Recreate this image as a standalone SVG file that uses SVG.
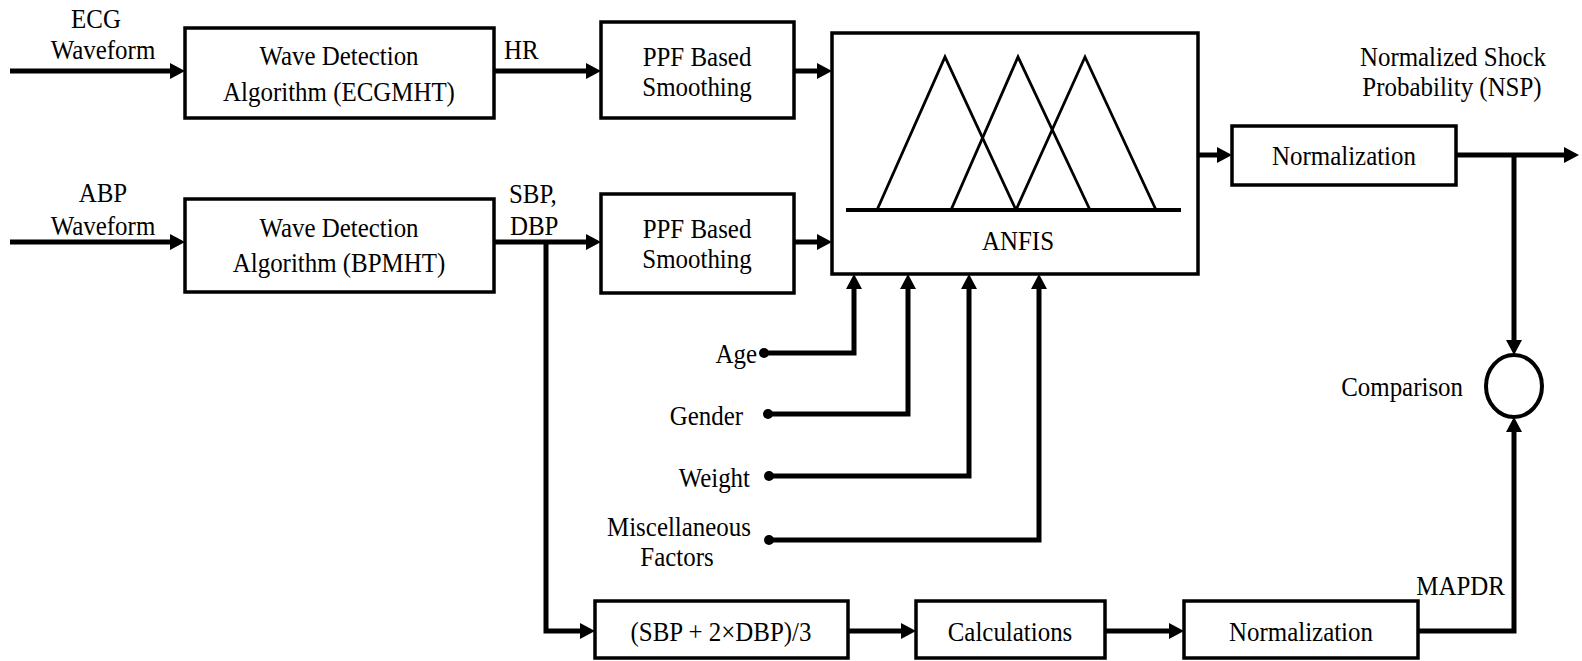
<svg xmlns="http://www.w3.org/2000/svg" width="1582" height="661" viewBox="0 0 1582 661">
<defs>
<style>
.box{fill:#fff;stroke:#000;stroke-width:3.5}
.t{font-family:'Liberation Serif','Times New Roman',serif;font-size:28px;fill:#000;text-anchor:middle}
.s{text-anchor:start}
.e{text-anchor:end}
.c{fill:none;stroke:#000;stroke-width:5;stroke-linejoin:miter}
.tri{fill:none;stroke:#000;stroke-width:2.8}
</style>
<marker id="ah" markerUnits="userSpaceOnUse" markerWidth="15" markerHeight="16" refX="0" refY="8" orient="auto" viewBox="0 0 15 16">
<path d="M0,0 L15,8 L0,16 Z" fill="#000"/>
</marker>
</defs>
<rect width="1582" height="661" fill="#fff"/>

<g id="connectors">
<path class="c" d="M10,71 H170" marker-end="url(#ah)"/>
<path class="c" d="M494,71 H586" marker-end="url(#ah)"/>
<path class="c" d="M794,71 H817" marker-end="url(#ah)"/>
<path class="c" d="M10,242 H170" marker-end="url(#ah)"/>
<path class="c" d="M494,242 H586" marker-end="url(#ah)"/>
<path class="c" d="M794,242 H817" marker-end="url(#ah)"/>
<path class="c" d="M546,242 V631 H580" marker-end="url(#ah)"/>
<path class="c" d="M848,631 H901" marker-end="url(#ah)"/>
<path class="c" d="M1105,631 H1169" marker-end="url(#ah)"/>
<path class="c" d="M1418,631 H1514 V432" marker-end="url(#ah)"/>
<path class="c" d="M1198,155 H1217" marker-end="url(#ah)"/>
<path class="c" d="M1456,155 H1564" marker-end="url(#ah)"/>
<path class="c" d="M1514,155 V340" marker-end="url(#ah)"/>
<path class="c" d="M764,353 H854 V289" marker-end="url(#ah)"/>
<path class="c" d="M768,414 H908 V289" marker-end="url(#ah)"/>
<path class="c" d="M769,476 H969 V289" marker-end="url(#ah)"/>
<path class="c" d="M769,540 H1039 V289" marker-end="url(#ah)"/>
<circle cx="764" cy="353" r="5"/>
<circle cx="768" cy="414" r="5"/>
<circle cx="769" cy="476" r="5"/>
<circle cx="769" cy="540" r="5"/>
</g>

<g id="ecg-input">
<text class="t" transform="translate(96,28) scale(0.89,1)">ECG</text>
<text class="t" transform="translate(103,59) scale(0.89,1)">Waveform</text>
</g>
<g id="abp-input">
<text class="t" transform="translate(103,202) scale(0.89,1)">ABP</text>
<text class="t" transform="translate(103,235) scale(0.89,1)">Waveform</text>
</g>

<g id="wave-ecg">
<rect class="box" x="185" y="28" width="309" height="90"/>
<text class="t" transform="translate(339,65) scale(0.89,1)">Wave Detection</text>
<text class="t" transform="translate(339,101) scale(0.89,1)">Algorithm (ECGMHT)</text>
</g>
<g id="wave-abp">
<rect class="box" x="185" y="199" width="309" height="93"/>
<text class="t" transform="translate(339,237) scale(0.89,1)">Wave Detection</text>
<text class="t" transform="translate(339,272) scale(0.89,1)">Algorithm (BPMHT)</text>
</g>

<g id="labels-hr">
<text class="t s" transform="translate(504,59) scale(0.89,1)">HR</text>
<text class="t s" transform="translate(509,203) scale(0.89,1)">SBP,</text>
<text class="t s" transform="translate(510,235) scale(0.89,1)">DBP</text>
</g>

<g id="ppf1">
<rect class="box" x="601" y="22" width="193" height="96"/>
<text class="t" transform="translate(697,66) scale(0.89,1)">PPF Based</text>
<text class="t" transform="translate(697,96) scale(0.89,1)">Smoothing</text>
</g>
<g id="ppf2">
<rect class="box" x="601" y="194" width="193" height="99"/>
<text class="t" transform="translate(697,238) scale(0.89,1)">PPF Based</text>
<text class="t" transform="translate(697,268) scale(0.89,1)">Smoothing</text>
</g>

<g id="anfis">
<rect class="box" x="832" y="33" width="366" height="241"/>
<line x1="846" y1="210" x2="1181" y2="210" stroke="#000" stroke-width="4"/>
<polyline class="tri" points="877,210 945,57 1016,210"/>
<polyline class="tri" points="951,210 1018,57 1090,210"/>
<polyline class="tri" points="1016,210 1085,57 1156,210"/>
<text class="t" transform="translate(1018,250) scale(0.89,1)">ANFIS</text>
</g>

<g id="norm-top">
<rect class="box" x="1232" y="126" width="224" height="59"/>
<text class="t" transform="translate(1344,165) scale(0.89,1)">Normalization</text>
</g>
<g id="nsp-label">
<text class="t" transform="translate(1453,66) scale(0.89,1)">Normalized Shock</text>
<text class="t" transform="translate(1452,96) scale(0.89,1)">Probability (NSP)</text>
</g>

<g id="comparison">
<ellipse cx="1514" cy="386" rx="28" ry="31" fill="#fff" stroke="#000" stroke-width="4"/>
<text class="t e" transform="translate(1463,396) scale(0.89,1)">Comparison</text>
</g>

<g id="age"><text class="t e" transform="translate(757,363) scale(0.89,1)">Age</text></g>
<g id="gender"><text class="t e" transform="translate(743,425) scale(0.89,1)">Gender</text></g>
<g id="weight"><text class="t e" transform="translate(750,487) scale(0.89,1)">Weight</text></g>
<g id="misc">
<text class="t" transform="translate(679,536) scale(0.89,1)">Miscellaneous</text>
<text class="t" transform="translate(677,566) scale(0.89,1)">Factors</text>
</g>

<g id="formula">
<rect class="box" x="595" y="601" width="253" height="57"/>
<text class="t" transform="translate(721,641) scale(0.89,1)">(SBP + 2×DBP)/3</text>
</g>
<g id="calculations">
<rect class="box" x="916" y="601" width="189" height="57"/>
<text class="t" transform="translate(1010,641) scale(0.89,1)">Calculations</text>
</g>
<g id="norm-bottom">
<rect class="box" x="1184" y="601" width="234" height="57"/>
<text class="t" transform="translate(1301,641) scale(0.89,1)">Normalization</text>
</g>
<g id="mapdr"><text class="t e" transform="translate(1505,595) scale(0.89,1)">MAPDR</text></g>
</svg>
